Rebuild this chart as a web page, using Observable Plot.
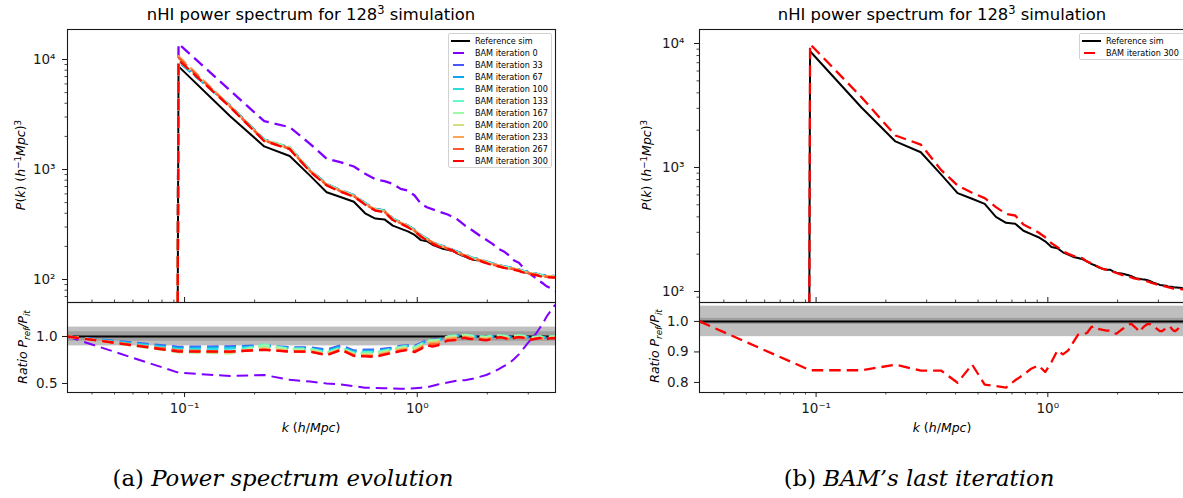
<!DOCTYPE html>
<html>
<head>
<meta charset="utf-8">
<script src="https://cdn.jsdelivr.net/npm/d3@7"></script>
<script src="https://cdn.jsdelivr.net/npm/@observablehq/plot@0.6"></script>
<style>
  html, body { margin:0; padding:0; background:#fff; overflow:hidden; }
  #fig { position:relative; width:1183px; height:498px; overflow:hidden; font-family:"DejaVu Sans", sans-serif; color:#000; }
  .lbl { position:absolute; white-space:nowrap; line-height:1; font-size:12.5px; }
  .rot { transform: translate(-50%,-50%) rotate(-90deg); }
  .hc { transform: translate(-50%,-50%); }
  .sp { font-size:0.7em; position:relative; top:-0.5em; }
  .sb { font-size:0.7em; position:relative; top:0.3em; }
  .title { position:absolute; white-space:nowrap; font-size:16.4px; line-height:1; transform: translate(-50%,-50%); }
  .legend { position:absolute; background:rgba(255,255,255,0.85); border:1px solid #d2d2d2; border-radius:2px; box-sizing:border-box; font-size:8.1px; }
  .legend .txt { position:absolute; white-space:nowrap; line-height:1; transform: translateY(-50%); }
  .legend svg { position:absolute; left:0; }
  .caption { position:absolute; font-family:"DejaVu Serif", serif; white-space:nowrap; line-height:1; font-size:22.8px; transform: translate(-50%,-50%); }
</style>
</head>
<body>
<div id="fig"></div>
<script>
// ---------------- data ----------------
// k bin centres (h/Mpc)
const kBins = [0.0314, 0.0942, 0.157, 0.220, 0.283, 0.346, 0.408, 0.471, 0.534, 0.597, 0.660, 0.723, 0.785, 0.848, 0.911, 0.974, 1.037, 1.100, 1.162, 1.225, 1.288, 1.351, 1.414, 1.476, 1.539, 1.602, 1.665, 1.728, 1.790, 1.853, 1.916, 1.979, 2.042, 2.105, 2.167, 2.230, 2.293, 2.356, 2.419, 2.482, 2.545, 2.607, 2.670, 2.733, 2.796, 2.859, 2.922, 2.985, 3.047, 3.110, 3.173, 3.236, 3.299, 3.362, 3.425, 3.487, 3.550, 3.613, 3.676, 3.739, 3.802, 3.865, 3.927];
const kCoarse = [0.0314, 0.0942, 0.157, 0.220, 0.283, 0.346, 0.408, 0.471, 0.534, 0.597, 0.660, 0.723, 0.785, 0.848, 0.911, 0.974, 1.037, 1.100, 1.225, 1.351, 1.476, 1.602, 1.728, 1.853, 1.979, 2.105, 2.230, 2.356, 2.482, 2.607, 2.733, 2.859, 2.985, 3.110, 3.236, 3.362, 3.487, 3.613, 3.739, 3.865, 3.927];

// P(k) of the reference simulation (first bin empty)
const pRef = [0, 8665, 3048, 1622, 1328, 880, 621, 560, 509, 400, 358, 352, 309, 290, 274, 254, 228, 223, 207, 198, 190, 186, 182, 175, 167, 162, 156, 152, 150, 150, 145, 142, 140, 139, 137, 135, 133, 130, 127, 126.6, 125.6, 125, 124, 122, 120, 117.5, 116, 114.6, 113, 112.4, 111.7, 111.1, 109.7, 109, 109, 108.4, 107.7, 107.7, 107, 107, 106.4, 106, 105.5];
// BAM iteration 300 on the fine grid
const pBam300 = [0, 9900, 3690, 1811, 1531, 957, 716, 625, 566, 479, 423, 410, 347, 322, 299, 274, 245, 228, 211, 201, 194, 189, 185, 174, 169, 163, 157, 152, 150, 148, 144, 141, 138, 135.5, 133, 131.5, 129.8, 127.4, 126.5, 125, 124, 122.6, 121, 119.7, 117.4, 116, 114.6, 113.3, 111.7, 111, 110.3, 109.6, 108.4, 107.2, 106.4, 105.7, 105, 105, 104.5, 104.5, 104, 104, 104];
const ratioBam300 = [1.000, 0.840, 0.840, 0.858, 0.839, 0.839, 0.799, 0.859, 0.793, 0.788, 0.783, 0.807, 0.825, 0.845, 0.856, 0.834, 0.867, 0.905, 0.892, 0.905, 0.932, 0.957, 0.958, 0.962, 0.981, 0.985, 0.975, 0.972, 0.970, 0.970, 0.962, 0.960, 0.968, 0.976, 0.981, 0.990, 0.992, 0.984, 0.976, 0.965, 0.976, 0.984, 0.990, 0.992, 0.990, 0.985, 0.979, 0.973, 0.968, 0.968, 0.973, 0.976, 0.981, 0.984, 0.976, 0.970, 0.968, 0.973, 0.979, 0.981, 0.984, 0.981, 0.985];

// other iterations on the coarse grid
const pBam0   = [0, 13900, 5220, 2750, 2425, 1713, 1251, 1159, 1065, 914, 817, 783, 741, 667, 645, 580, 488, 454, 418, 390, 356, 310, 279, 251, 230, 211, 190, 180, 165, 149, 142, 128, 116, 109, 103, 96.6, 91.4, 86.3, 83.4, 80.6, 79];
const pBam33  = [0, 9600, 3819, 1874, 1585, 990, 741, 647, 586, 496, 438, 424, 359, 333, 309, 284, 254, 236, 208, 196, 180, 169, 157, 153, 146, 140, 136, 132, 129, 127, 124, 120, 117, 115, 113, 111, 109.5, 108.7, 108, 107.6, 107.6];
const pBam67  = [0, 9500, 3800, 1865, 1577, 986, 737, 644, 583, 493, 436, 422, 357, 332, 308, 282, 252, 235, 207, 195, 179, 168, 157, 152, 145, 139.6, 135.4, 131.2, 128.8, 126.3, 123.3, 119.5, 116.7, 114.3, 112.9, 110.4, 108.9, 108.2, 107.6, 107.1, 107.1];
const pBam100 = [0, 9700, 3782, 1856, 1569, 981, 734, 641, 580, 491, 434, 420, 356, 330, 306, 281, 251, 234, 206, 194, 178, 167, 156, 152, 145, 139, 135, 130.6, 128, 125.7, 122.7, 118.9, 116.1, 113.8, 112.3, 109.9, 108.3, 107.6, 107.1, 106.6, 106.6];
const pBam133 = [0, 9800, 3782, 1856, 1592, 981, 734, 641, 580, 491, 434, 420, 356, 330, 306, 281, 251, 234, 206, 194, 178, 167, 156, 152, 145, 139, 135, 130.6, 128, 125.7, 122.7, 118.9, 116.1, 113.8, 112.3, 109.9, 108.3, 107.6, 107.1, 106.6, 106.6];
const pBam167 = [0, 10000, 3764, 1847, 1600, 976, 730, 638, 577, 489, 431, 418, 354, 328, 305, 279, 250, 233, 205, 193, 177, 166, 155, 151, 144, 138.2, 134.1, 130, 127.5, 125, 122.1, 118.3, 115.6, 113.2, 111.8, 109.3, 107.8, 107.1, 106.6, 106.1, 106.1];
const pBam200 = [0, 10300, 3745, 1838, 1554, 971, 727, 634, 574, 486, 429, 416, 352, 327, 303, 278, 249, 231, 204, 192, 177, 165, 154, 150, 143, 137.5, 133.5, 129.3, 126.9, 124.4, 121.5, 117.7, 115, 112.7, 111.2, 108.8, 107.3, 106.6, 106.1, 105.6, 105.6];
const pBam233 = [0, 10700, 3764, 1847, 1562, 976, 730, 638, 577, 489, 431, 418, 354, 328, 305, 279, 250, 233, 205, 193, 177, 166, 155, 151, 144, 138.2, 134.1, 130, 127.5, 125, 122.1, 118.3, 115.6, 113.2, 111.8, 109.3, 107.8, 107.1, 106.6, 106.1, 106.1];
const pBam267 = [0, 10400, 3720, 1826, 1543, 965, 722, 630, 571, 483, 426, 413, 350, 325, 301, 276, 247, 230, 203, 191, 175, 164, 153, 149, 142, 136.6, 132.6, 128.4, 126, 123.6, 120.7, 116.9, 114.2, 111.9, 110.5, 108.1, 106.5, 105.8, 105.3, 104.8, 104.8];

const ratioBam0   = [1.0, 0.615, 0.58, 0.59, 0.54, 0.52, 0.50, 0.49, 0.47, 0.455, 0.452, 0.45, 0.447, 0.443, 0.445, 0.45, 0.455, 0.46, 0.49, 0.51, 0.53, 0.535, 0.55, 0.57, 0.59, 0.62, 0.65, 0.685, 0.715, 0.76, 0.81, 0.87, 0.93, 0.98, 1.03, 1.09, 1.15, 1.22, 1.27, 1.32, 1.34];
const ratioBam33  = [1.000, 0.890, 0.895, 0.905, 0.885, 0.885, 0.860, 0.905, 0.850, 0.860, 0.860, 0.870, 0.880, 0.900, 0.905, 0.900, 0.930, 0.960, 0.970, 1.000, 1.010, 1.015, 1.005, 1.000, 0.995, 1.005, 1.010, 1.005, 0.995, 1.005, 1.010, 1.005, 0.995, 0.990, 0.995, 1.000, 0.990, 0.995, 1.000, 1.000, 1.000];
const ratioBam67  = [1.000, 0.880, 0.885, 0.900, 0.880, 0.875, 0.850, 0.895, 0.840, 0.850, 0.850, 0.860, 0.870, 0.890, 0.900, 0.890, 0.920, 0.955, 0.965, 0.995, 1.005, 1.010, 1.000, 0.995, 0.990, 1.000, 1.005, 1.000, 0.990, 1.000, 1.005, 1.000, 0.990, 0.985, 0.990, 0.995, 0.985, 0.990, 0.995, 0.995, 0.995];
const ratioBam100 = [1.000, 0.865, 0.870, 0.895, 0.870, 0.865, 0.835, 0.885, 0.830, 0.835, 0.835, 0.850, 0.865, 0.885, 0.895, 0.880, 0.915, 0.950, 0.960, 0.995, 1.008, 1.012, 1.002, 0.998, 0.992, 1.002, 1.008, 1.002, 0.992, 1.002, 1.008, 1.002, 0.992, 0.988, 0.992, 0.998, 0.988, 0.992, 0.998, 0.998, 0.998];
const ratioBam133 = [1.000, 0.850, 0.835, 0.915, 0.870, 0.870, 0.830, 0.880, 0.825, 0.830, 0.830, 0.850, 0.870, 0.890, 0.900, 0.885, 0.920, 0.955, 0.965, 1.000, 1.012, 1.018, 1.008, 1.002, 0.998, 1.008, 1.012, 1.008, 0.998, 1.008, 1.012, 1.008, 0.998, 0.992, 0.998, 1.002, 0.992, 0.998, 1.002, 1.002, 1.002];
const ratioBam167 = [1.000, 0.835, 0.820, 0.905, 0.860, 0.860, 0.820, 0.870, 0.815, 0.815, 0.815, 0.840, 0.860, 0.880, 0.890, 0.875, 0.910, 0.950, 0.960, 0.995, 1.008, 1.014, 1.004, 0.999, 0.994, 1.004, 1.009, 1.004, 0.994, 1.004, 1.009, 1.004, 0.994, 0.989, 0.994, 0.999, 0.989, 0.994, 0.999, 0.999, 0.999];
const ratioBam200 = [1.000, 0.835, 0.825, 0.880, 0.850, 0.850, 0.815, 0.865, 0.810, 0.810, 0.810, 0.830, 0.850, 0.870, 0.880, 0.860, 0.895, 0.935, 0.945, 0.985, 0.995, 1.000, 0.990, 0.985, 0.980, 0.990, 0.995, 0.990, 0.980, 0.990, 0.995, 0.990, 0.980, 0.975, 0.980, 0.985, 0.975, 0.980, 0.985, 0.985, 0.990];
const ratioBam233 = [1.000, 0.850, 0.835, 0.865, 0.845, 0.845, 0.810, 0.865, 0.805, 0.800, 0.800, 0.820, 0.840, 0.860, 0.870, 0.850, 0.885, 0.925, 0.935, 0.975, 0.985, 0.995, 0.985, 0.980, 0.975, 0.985, 0.995, 0.990, 0.975, 0.990, 0.995, 0.990, 0.980, 0.975, 0.980, 0.985, 0.975, 0.980, 0.985, 0.985, 0.990];
const ratioBam267 = [1.000, 0.850, 0.840, 0.860, 0.840, 0.840, 0.805, 0.860, 0.798, 0.793, 0.790, 0.812, 0.830, 0.850, 0.860, 0.840, 0.875, 0.912, 0.915, 0.962, 0.968, 0.988, 0.976, 0.974, 0.965, 0.980, 0.992, 0.986, 0.968, 0.986, 0.993, 0.987, 0.975, 0.970, 0.978, 0.985, 0.972, 0.975, 0.982, 0.982, 0.986];

const seriesLabels = ["BAM iteration 0", "BAM iteration 33", "BAM iteration 67", "BAM iteration 100", "BAM iteration 133", "BAM iteration 167", "BAM iteration 200", "BAM iteration 233", "BAM iteration 267", "BAM iteration 300"];
const seriesColors = ["#8000ff", "#4757fb", "#0ea4f0", "#2bdddd", "#63fbc3", "#9cfba4", "#d4dd80", "#ffa457", "#ff572c", "#ff0000"];
const refLabel = "Reference sim";

// axis ticks and labels
const xMajorTicks = [0.1, 1];
const xMajorLabels = ["10\u207B\u00B9", "10\u2070"];
const xMinorTicks = [0.04, 0.05, 0.06, 0.07, 0.08, 0.09, 0.2, 0.3, 0.4, 0.5, 0.6, 0.7, 0.8, 0.9, 2, 3];
const yMajorTicks = [100, 1000, 10000];
const yMajorLabels = ["10\u00B2", "10\u00B3", "10\u2074"];
const yMinorTicks = [70, 80, 90, 200, 300, 400, 500, 600, 700, 800, 900, 2000, 3000, 4000, 5000, 6000, 7000, 8000, 9000];
const ratioTicksLeft = [0.5, 1.0];
const ratioTicksRight = [0.8, 0.9, 1.0];
const bandsLeft = [[0.9, 1.1], [0.95, 1.05]];
const bandsRight = [[0.95, 1.05], [0.99, 1.01]];
const refRatioLevel = [1];

// ---------------- build ----------------
const fig = document.getElementById("fig");
const FONT = "'DejaVu Sans', sans-serif";
const DASH = "11.5,6";
const xDomain = [0.0314, 3.927];

const toRows = (ks, vs) => ks.map((k, i) => ({k, v: vs[i]}));
const coarseTop = [pBam0, pBam33, pBam67, pBam100, pBam133, pBam167, pBam200, pBam233, pBam267];
const coarseRatio = [ratioBam0, ratioBam33, ratioBam67, ratioBam100, ratioBam133, ratioBam167, ratioBam200, ratioBam233, ratioBam267];

const refSeries = {rows: toRows(kBins, pRef), color: "#000", width: 2, dash: null};
const topAll = coarseTop.map((a, i) => ({rows: toRows(kCoarse, a), color: seriesColors[i], width: 2.3, dash: DASH}));
const top300 = {rows: toRows(kBins, pBam300), color: seriesColors[9], width: 2.3, dash: DASH};
topAll.push(top300);
const ratioAll = coarseRatio.map((a, i) => ({rows: toRows(kCoarse, a), color: seriesColors[i], width: i === 0 ? 2 : 2.3, dash: DASH}));
const ratio300 = {rows: toRows(kBins, ratioBam300), color: seriesColors[9], width: 2.3, dash: DASH};
ratioAll.push(ratio300);

function place(el, left, top) {
  el.style.position = "absolute";
  el.style.left = left + "px";
  el.style.top = top + "px";
  fig.appendChild(el);
}
const svgStyle = {fontFamily: FONT, background: "transparent", overflow: "visible", maxWidth: "none", color: "#1a1a1a"};

function lineMark(s, yAcc) {
  return Plot.line(s.rows, {x: "k", y: yAcc, stroke: s.color, strokeWidth: s.width,
    strokeDasharray: s.dash || undefined, strokeLinecap: "butt", strokeLinejoin: "round", clip: true});
}

function spectrumPanel({svgLeft, frameLeft, frameRight, yDomain, series, yPad}) {
  const frameTop = 29, frameBottom = 302, marginRight = 12, marginBottom = 6;
  const innerH = frameBottom - frameTop;
  const inY = t => t >= yDomain[0] && t <= yDomain[1];
  const marks = series.map(s => lineMark(s, d => (d.v > 0 ? d.v : 1e-300)));
  marks.push(Plot.tickX(xMajorTicks, {x: d => d, insetTop: innerH - 5, strokeWidth: 1}));
  marks.push(Plot.tickX(xMinorTicks, {x: d => d, insetTop: innerH - 2.5, strokeWidth: 0.8}));
  marks.push(Plot.frame({strokeWidth: 1.1}));
  marks.push(Plot.axisY(yMajorTicks.filter(inY), {tickSize: 5, tickPadding: yPad, fontSize: 13.5,
    tickFormat: d => yMajorLabels[yMajorTicks.indexOf(d)], label: null}));
  marks.push(Plot.axisY(yMinorTicks.filter(inY), {tickSize: 2.5, tickFormat: () => "", label: null, strokeWidth: 0.8}));
  const svg = Plot.plot({
    width: frameRight - svgLeft + marginRight, height: frameBottom + marginBottom,
    marginLeft: frameLeft - svgLeft, marginRight, marginTop: frameTop, marginBottom,
    x: {type: "log", domain: xDomain, axis: null},
    y: {type: "log", domain: yDomain},
    style: svgStyle, marks
  });
  place(svg, svgLeft, 0);
}

function ratioPanel({svgLeft, frameLeft, frameRight, yDomain, yTicks, bands, series, yPad}) {
  const frameTop = 302, frameBottom = 392, marginRight = 12, marginBottom = 30;
  const marks = [
    Plot.rect(bands, {y1: d => d[0], y2: d => d[1], fill: "#808080", fillOpacity: 0.5}),
    Plot.ruleY(refRatioLevel, {stroke: "#000", strokeWidth: 2})
  ];
  series.forEach(s => marks.push(lineMark(s, "v")));
  marks.push(Plot.frame({strokeWidth: 1.1}));
  marks.push(Plot.axisY(yTicks, {tickSize: 5, tickPadding: yPad, fontSize: 13.5, tickFormat: d => d.toFixed(1), label: null}));
  marks.push(Plot.axisX(xMajorTicks, {tickSize: 5, tickPadding: 6, fontSize: 13.5,
    tickFormat: d => xMajorLabels[xMajorTicks.indexOf(d)], label: null}));
  marks.push(Plot.axisX(xMinorTicks, {tickSize: 2.5, tickFormat: () => "", label: null, strokeWidth: 0.8}));
  const svg = Plot.plot({
    width: frameRight - svgLeft + marginRight, height: frameBottom - frameTop + marginBottom,
    marginLeft: frameLeft - svgLeft, marginRight, marginTop: 0, marginBottom,
    x: {type: "log", domain: xDomain},
    y: {domain: yDomain},
    style: svgStyle, marks
  });
  place(svg, svgLeft, frameTop);
}

// panel (a)
spectrumPanel({svgLeft: 0, frameLeft: 67, frameRight: 555, yDomain: [61.8, 18740], series: [refSeries, ...topAll], yPad: 7});
ratioPanel({svgLeft: 0, frameLeft: 67, frameRight: 555, yDomain: [0.404, 1.362], yTicks: ratioTicksLeft, bands: bandsLeft, series: ratioAll, yPad: 5});
// panel (b)
spectrumPanel({svgLeft: 630, frameLeft: 699, frameRight: 1185, yDomain: [81.5, 12970], series: [refSeries, top300], yPad: 10});
ratioPanel({svgLeft: 630, frameLeft: 699, frameRight: 1185, yDomain: [0.767, 1.062], yTicks: ratioTicksRight, bands: bandsRight, series: [ratio300], yPad: 6});

// ---------------- text ----------------
function addHTML(cls, html, x, y) {
  const d = document.createElement("div");
  d.className = cls;
  d.innerHTML = html;
  d.style.left = x + "px";
  d.style.top = y + "px";
  fig.appendChild(d);
  return d;
}
const titleHTML = 'nHI power spectrum for 128<span class="sp">3</span> simulation';
addHTML("title", titleHTML, 311, 15);
addHTML("title", titleHTML, 942, 15);

const pkLabel = '<i>P</i>(<i>k</i>) (<i>h</i><span class="sp">\u22121</span><i>Mpc</i>)<span class="sp">3</span>';
const ratioLabel = '<i>Ratio P</i><span class="sb"><i>ref</i></span><i>/P</i><span class="sb"><i>it</i></span>';
const kLabel = '<i>k</i> (<i>h</i>/<i>Mpc</i>)';
addHTML("lbl rot", pkLabel, 21, 165);
addHTML("lbl rot", ratioLabel, 23, 347);
addHTML("lbl rot", pkLabel, 647, 165);
addHTML("lbl rot", ratioLabel, 655, 346);
addHTML("lbl hc", kLabel, 311, 428);
addHTML("lbl hc", kLabel, 942, 428);

addHTML("caption", '(a) <i>Power spectrum evolution</i>', 283, 478);
addHTML("caption", '(b) <i>BAM\u2019s last iteration</i>', 919, 478);

// ---------------- legends ----------------
function legend(x, y, w, entries) {
  const box = document.createElement("div");
  box.className = "legend";
  box.style.left = x + "px";
  box.style.top = y + "px";
  box.style.width = w + "px";
  box.style.height = (entries.length * 12 + 3) + "px";
  entries.forEach((e, i) => {
    const cy = 7 + i * 12;
    const ns = "http://www.w3.org/2000/svg";
    const svg = document.createElementNS(ns, "svg");
    svg.setAttribute("width", 24); svg.setAttribute("height", 6);
    svg.style.top = (cy - 3) + "px";
    const ln = document.createElementNS(ns, "line");
    ln.setAttribute("x1", e.dash ? 4 : 2); ln.setAttribute("x2", e.dash ? 15 : 21);
    ln.setAttribute("y1", 3); ln.setAttribute("y2", 3);
    ln.setAttribute("stroke", e.color); ln.setAttribute("stroke-width", 2);
    svg.appendChild(ln);
    box.appendChild(svg);
    const t = document.createElement("div");
    t.className = "txt";
    t.textContent = e.label;
    t.style.left = "26px";
    t.style.top = cy + "px";
    box.appendChild(t);
  });
  fig.appendChild(box);
}
const entriesA = [{label: refLabel, color: "#000", dash: false}].concat(seriesLabels.map((l, i) => ({label: l, color: seriesColors[i], dash: true})));
legend(448, 33, 104, entriesA);
legend(1079, 33, 110, [{label: refLabel, color: "#000", dash: false}, {label: seriesLabels[9], color: seriesColors[9], dash: true}]);
</script>
</body>
</html>
